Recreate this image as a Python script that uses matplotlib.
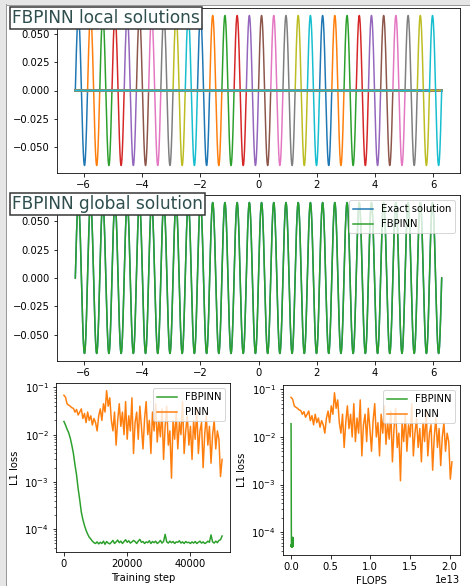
import numpy as np
import matplotlib.pyplot as plt
from matplotlib.patches import Rectangle
from matplotlib.lines import Line2D
from matplotlib.ticker import MultipleLocator

# problem: u(x) = sin(w x)/w on [-2pi, 2pi]
omega = 15
n_sub = 30
x_min, x_max = -2*np.pi, 2*np.pi

# training curves, one value every 500 steps
steps = np.arange(0, 50001, 500)
pinn_loss = [
    0.068, 0.062, 0.045, 0.042, 0.040, 0.037, 0.036, 0.030, 0.034, 0.026,
    0.030, 0.035, 0.022, 0.028, 0.018, 0.030, 0.020, 0.025, 0.016, 0.022,
    0.018, 0.012, 0.025, 0.035, 0.020, 0.045, 0.030, 0.085, 0.040, 0.060,
    0.020, 0.012, 0.030, 0.006, 0.020, 0.045, 0.015, 0.030, 0.010, 0.050,
    0.008, 0.025, 0.012, 0.060, 0.004, 0.018, 0.030, 0.008, 0.040, 0.015,
    0.005, 0.022, 0.050, 0.010, 0.020, 0.004, 0.030, 0.012, 0.045, 0.007,
    0.020, 0.009, 0.035, 0.003, 0.015, 0.040, 0.006, 0.012, 0.0012, 0.020,
    0.008, 0.030, 0.005, 0.018, 0.010, 0.050, 0.004, 0.012, 0.025, 0.006,
    0.015, 0.003, 0.020, 0.008, 0.035, 0.004, 0.012, 0.018, 0.002, 0.010,
    0.025, 0.006, 0.015, 0.0025, 0.010, 0.020, 0.005, 0.012, 0.008, 0.0013,
    0.003]
fbpinn_loss = [
    0.019, 0.016, 0.013, 0.011, 0.0085, 0.0060, 0.0040, 0.0023, 0.0014, 7.2e-4,
    4.2e-4, 2.3e-4, 1.6e-4, 1.2e-4, 9.5e-5, 7.9e-5, 6.8e-5, 6.2e-5, 5.6e-5, 5.2e-5,
    5.0e-5, 5.4e-5, 4.9e-5, 5.3e-5, 5.0e-5, 5.6e-5, 4.8e-5, 5.5e-5, 5.1e-5, 4.9e-5,
    5.3e-5, 5.8e-5, 5.0e-5, 5.4e-5, 5.9e-5, 5.2e-5, 5.6e-5, 5.0e-5, 5.5e-5, 6.0e-5,
    5.3e-5, 5.7e-5, 5.1e-5, 5.4e-5, 5.8e-5, 5.5e-5, 5.0e-5, 5.6e-5, 6.1e-5, 5.3e-5,
    5.5e-5, 5.0e-5, 5.4e-5, 5.2e-5, 5.7e-5, 5.0e-5, 5.5e-5, 5.2e-5, 5.6e-5, 5.0e-5,
    5.3e-5, 5.8e-5, 5.1e-5, 5.5e-5, 7.8e-5, 5.4e-5, 5.1e-5, 5.6e-5, 5.2e-5, 5.5e-5,
    5.0e-5, 5.4e-5, 5.3e-5, 5.7e-5, 5.1e-5, 5.4e-5, 5.0e-5, 5.5e-5, 5.2e-5, 5.3e-5,
    5.0e-5, 5.4e-5, 5.1e-5, 5.5e-5, 5.0e-5, 5.3e-5, 5.6e-5, 5.1e-5, 5.4e-5, 5.0e-5,
    5.2e-5, 5.6e-5, 5.3e-5, 7.6e-5, 5.4e-5, 5.1e-5, 5.6e-5, 5.2e-5, 5.8e-5, 6.0e-5,
    7.2e-5]
pinn_flops_per_step = 4.06e8
fbpinn_flops_per_step = 5.6e6

W, H = 470, 586
fig = plt.figure(figsize=(W/72, H/72), dpi=72)

# screenshot frame (light band + dark line on left and top)
fig.add_artist(Rectangle((0, 0), 5/W, 1, transform=fig.transFigure, color='#e6e6e6', zorder=-5))
fig.add_artist(Rectangle((0, 1-4/H), 1, 4/H, transform=fig.transFigure, color='#e6e6e6', zorder=-5))
fig.add_artist(Line2D([5.5/W, 5.5/W], [0, 1-4/H], transform=fig.transFigure, color='#9a9a9a', lw=1))
fig.add_artist(Line2D([5.5/W, 1], [1-4.5/H, 1-4.5/H], transform=fig.transFigure, color='#9a9a9a', lw=1))

ax1 = fig.add_axes([57/W, 1-173/H, 403/W, 165/H])
ax2 = fig.add_axes([57/W, 1-361/H, 403/W, 166/H])
ax3 = fig.add_axes([56/W, 1-552/H, 174/W, 169/H])
ax4 = fig.add_axes([283/W, 1-555/H, 177/W, 170/H])

x = np.linspace(x_min, x_max, 4000)
u = np.sin(omega*x)/omega
edges = np.linspace(x_min, x_max, n_sub+1)
s = 0.004
for i in range(n_sub):
    win = 1/(1+np.exp(-(x-edges[i])/s)) * 1/(1+np.exp(-(edges[i+1]-x)/s))
    ax1.plot(x, u*win)

ax2.plot(x, u, color='C0', label='Exact solution')
ax2.plot(x, u, color='C2', label='FBPINN')
ax2.legend(loc='upper right')

for ax in (ax1, ax2):
    ax.yaxis.set_major_locator(MultipleLocator(0.025))

ax3.plot(steps, fbpinn_loss, color='C2', label='FBPINN')
ax3.plot(steps, pinn_loss, color='C1', label='PINN')
ax3.set_yscale('log')
ax3.set_xlabel('Training step')
ax3.set_ylabel('L1 loss')
ax3.legend(loc='upper right')

ax4.plot(steps*fbpinn_flops_per_step, fbpinn_loss, color='C2', label='FBPINN')
ax4.plot(steps*pinn_flops_per_step, pinn_loss, color='C1', label='PINN')
ax4.set_yscale('log')
ax4.set_xlabel('FLOPS')
ax4.set_ylabel('L1 loss')
ax4.legend(loc='upper right')

box = dict(boxstyle='square,pad=0.12', fc='white', ec='#333333', lw=1.5)
fig.text(12/W, 1-9/H, 'FBPINN local solutions', fontsize=17, color='darkslategray',
         ha='left', va='top', bbox=box)
fig.text(12/W, 1-195/H, 'FBPINN global solution', fontsize=17, color='darkslategray',
         ha='left', va='top', bbox=box)

fig.savefig('out.png', dpi=72)
